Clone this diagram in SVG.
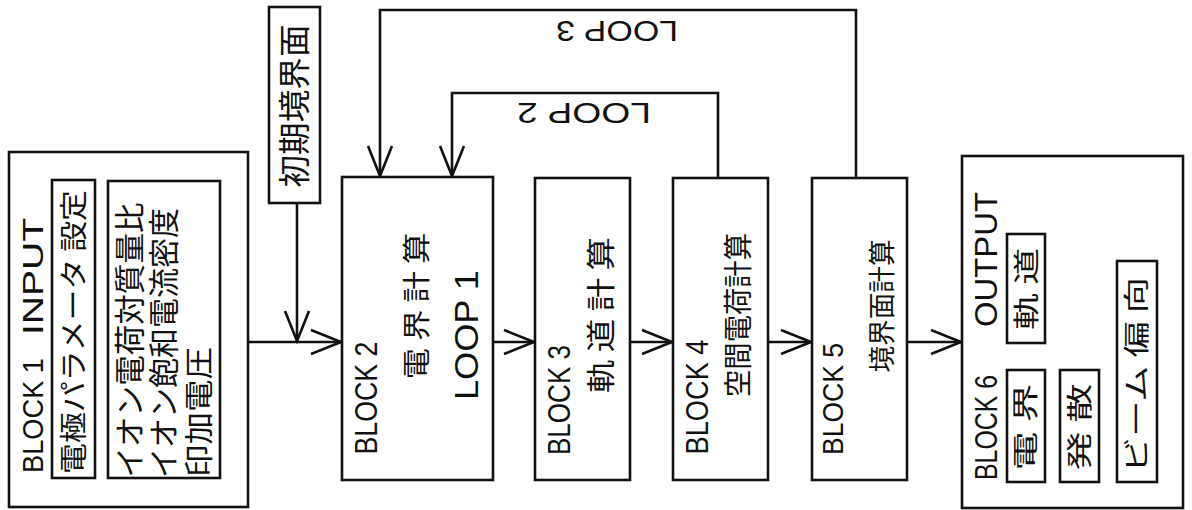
<svg xmlns="http://www.w3.org/2000/svg" width="1192" height="510" viewBox="0 0 1192 510">
<style>
.b{fill:#fff;stroke:#111;stroke-width:2.6}
.c{fill:none;stroke:#111;stroke-width:2.6}
.l{font-family:"Liberation Sans","DejaVu Sans",sans-serif;fill:#111;text-anchor:middle}
.j{font-family:"Noto Sans CJK JP","Noto Sans CJK SC",sans-serif;fill:#111;text-anchor:middle}
</style>
<defs>
<marker id="a" markerUnits="userSpaceOnUse" markerWidth="40" markerHeight="40" viewBox="-34 -20 40 40" refX="0" refY="0" orient="auto" overflow="visible">
<path d="M-30,-12 L0,0 L-30,12" fill="none" stroke="#111" stroke-width="2.6"/>
</marker>
</defs>
<rect width="1192" height="510" fill="#fff"/>
<g id="connectors">
<path class="c" d="M248,342 H341" marker-end="url(#a)"/>
<path class="c" d="M297,203 V341" marker-end="url(#a)"/>
<path class="c" d="M493,342 H534" marker-end="url(#a)"/>
<path class="c" d="M630,342 H672" marker-end="url(#a)"/>
<path class="c" d="M768,342 H811" marker-end="url(#a)"/>
<path class="c" d="M907,342 H961" marker-end="url(#a)"/>
<path class="c" d="M718,178 V93 H452 V176" marker-end="url(#a)"/>
<path class="c" d="M856,178 V10 H380 V176" marker-end="url(#a)"/>
<text class="l" font-size="30" transform="translate(617,32) rotate(180)" y="11" textLength="122" lengthAdjust="spacingAndGlyphs">LOOP 3</text>
<text class="l" font-size="30" transform="translate(584,114) rotate(180)" y="11" textLength="134" lengthAdjust="spacingAndGlyphs">LOOP 2</text>
</g>
<g id="block1">
<rect class="b" x="9" y="152" width="239" height="355"/>
<text class="l" font-size="29" transform="translate(32,415.5) rotate(-90)" y="10.5" textLength="115" lengthAdjust="spacingAndGlyphs">BLOCK 1</text>
<text class="l" font-size="29" transform="translate(32,276.5) rotate(-90)" y="10.5" textLength="117" lengthAdjust="spacingAndGlyphs">INPUT</text>
<rect class="b" x="52" y="180" width="43" height="298"/>
<text class="j" font-size="28" transform="translate(74,332) rotate(-90)" y="10" textLength="284" lengthAdjust="spacingAndGlyphs">電極パラメータ 設定</text>
<rect class="b" x="108" y="181" width="112" height="297"/>
<text class="j" font-size="31" transform="translate(130,340) rotate(-90)" y="11" textLength="275" lengthAdjust="spacingAndGlyphs">イオン電荷対質量比</text>
<text class="j" font-size="31" transform="translate(164,343) rotate(-90)" y="11" textLength="270" lengthAdjust="spacingAndGlyphs">イオン飽和電流密度</text>
<text class="j" font-size="29" transform="translate(200,412) rotate(-90)" y="10" textLength="130" lengthAdjust="spacingAndGlyphs">印加電圧</text>
</g>
<g id="init">
<rect class="b" x="269" y="7" width="51" height="196"/>
<text class="j" font-size="32" transform="translate(295,106) rotate(-90)" y="11" textLength="163" lengthAdjust="spacingAndGlyphs">初期境界面</text>
</g>
<g id="block2">
<rect class="b" x="342" y="177" width="151" height="303"/>
<text class="l" font-size="32" transform="translate(365,398) rotate(-90)" y="11.5" textLength="113" lengthAdjust="spacingAndGlyphs">BLOCK 2</text>
<text class="j" font-size="28" transform="translate(417,306) rotate(-90)" y="10" textLength="147" lengthAdjust="spacingAndGlyphs">電 界 計 算</text>
<text class="l" font-size="33" transform="translate(466,335) rotate(-90)" y="12" textLength="130" lengthAdjust="spacingAndGlyphs">LOOP 1</text>
</g>
<g id="block3">
<rect class="b" x="535" y="178" width="95" height="302"/>
<text class="l" font-size="31" transform="translate(559,400) rotate(-90)" y="11" textLength="110" lengthAdjust="spacingAndGlyphs">BLOCK 3</text>
<text class="j" font-size="29" transform="translate(602,315) rotate(-90)" y="10" textLength="156" lengthAdjust="spacingAndGlyphs">軌 道 計 算</text>
</g>
<g id="block4">
<rect class="b" x="673" y="178" width="95" height="302"/>
<text class="l" font-size="32" transform="translate(696,397) rotate(-90)" y="11.5" textLength="115" lengthAdjust="spacingAndGlyphs">BLOCK 4</text>
<text class="j" font-size="29" transform="translate(739,315) rotate(-90)" y="10" textLength="164" lengthAdjust="spacingAndGlyphs">空間電荷計算</text>
</g>
<g id="block5">
<rect class="b" x="812" y="178" width="95" height="302"/>
<text class="l" font-size="30" transform="translate(832,399) rotate(-90)" y="11" textLength="112" lengthAdjust="spacingAndGlyphs">BLOCK 5</text>
<text class="j" font-size="27" transform="translate(882,306) rotate(-90)" y="9.5" textLength="133" lengthAdjust="spacingAndGlyphs">境界面計算</text>
</g>
<g id="block6">
<rect class="b" x="962" y="156" width="221" height="352"/>
<text class="l" font-size="32" transform="translate(985,427.5) rotate(-90)" y="11.5" textLength="105" lengthAdjust="spacingAndGlyphs">BLOCK 6</text>
<text class="l" font-size="32" transform="translate(985,259.5) rotate(-90)" y="11.5" textLength="135" lengthAdjust="spacingAndGlyphs">OUTPUT</text>
<rect class="b" x="1007" y="234" width="38" height="109"/>
<text class="j" font-size="26" transform="translate(1027,289) rotate(-90)" y="9" textLength="82" lengthAdjust="spacingAndGlyphs">軌 道</text>
<rect class="b" x="1007" y="370" width="38" height="112"/>
<text class="j" font-size="26" transform="translate(1026,427) rotate(-90)" y="9" textLength="87" lengthAdjust="spacingAndGlyphs">電 界</text>
<rect class="b" x="1060" y="370" width="39" height="112"/>
<text class="j" font-size="26" transform="translate(1080,427) rotate(-90)" y="9" textLength="87" lengthAdjust="spacingAndGlyphs">発 散</text>
<rect class="b" x="1117" y="261" width="40" height="221"/>
<text class="j" font-size="26" transform="translate(1137,375) rotate(-90)" y="9" textLength="196" lengthAdjust="spacingAndGlyphs">ビーム 偏 向</text>
</g>
</svg>
